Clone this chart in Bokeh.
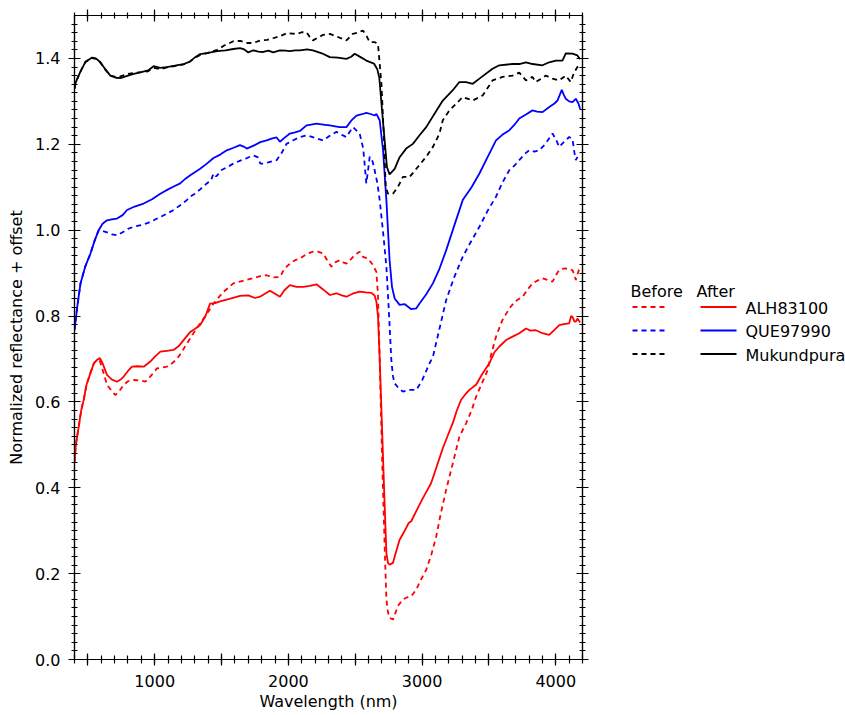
from bokeh.plotting import figure
from bokeh.models import Range1d, LinearAxis, SingleIntervalTicker, NumeralTickFormatter, CustomJSTickFormatter
from bokeh.layouts import row
from bokeh.embed import file_html
from bokeh.resources import INLINE
from bokeh.core.properties import value

# ---------------- data ----------------
# Mukundpura (black)
wl_mk_after = [400, 410, 445, 482, 532, 560, 594, 630, 668, 710, 743, 800, 843, 900, 950, 992, 1040, 1091, 1150,
               1216, 1260, 1303, 1340, 1400, 1467, 1530, 1588, 1638, 1670, 1700, 1737, 1775, 1812, 1850, 1886, 1937,
               1980, 2011, 2050, 2086, 2140, 2183, 2250, 2310, 2370, 2434, 2470, 2496, 2540, 2583, 2640, 2665, 2680,
               2708, 2737, 2757, 2795, 2832, 2881, 2931, 2981, 3031, 3093, 3155, 3230, 3279, 3329, 3379, 3429, 3527,
               3578, 3677, 3727, 3777, 3826, 3901, 3951, 4001, 4050, 4075, 4125, 4162, 4182]
r_mk_after = [1.330, 1.345, 1.370, 1.392, 1.402, 1.400, 1.391, 1.375, 1.360, 1.355, 1.354, 1.360, 1.364, 1.368, 1.372,
              1.382, 1.378, 1.380, 1.383, 1.387, 1.392, 1.403, 1.410, 1.413, 1.417, 1.419, 1.422, 1.424, 1.421, 1.414,
              1.419, 1.416, 1.415, 1.418, 1.414, 1.419, 1.418, 1.417, 1.419, 1.419, 1.421, 1.419, 1.412, 1.403, 1.402,
              1.399, 1.404, 1.411, 1.403, 1.395, 1.388, 1.375, 1.355, 1.252, 1.147, 1.130, 1.143, 1.170, 1.190, 1.201,
              1.221, 1.240, 1.271, 1.302, 1.326, 1.345, 1.345, 1.341, 1.353, 1.376, 1.384, 1.387, 1.387, 1.391, 1.387,
              1.384, 1.391, 1.395, 1.395, 1.412, 1.411, 1.407, 1.398]

wl_mk_before = [400, 410, 445, 482, 532, 560, 594, 630, 668, 710, 743, 800, 843, 900, 950, 992, 1040, 1091, 1150,
                1216, 1260, 1303, 1340, 1400, 1467, 1520, 1588, 1640, 1690, 1737, 1790, 1840, 1886, 1940, 1988, 2030,
                2061, 2100, 2136, 2160, 2183, 2230, 2260, 2310, 2370, 2434, 2460, 2481, 2520, 2557, 2585, 2608, 2645,
                2670, 2696, 2713, 2728, 2745, 2782, 2820, 2857, 2907, 2957, 3031, 3081, 3130, 3155, 3205, 3304, 3379,
                3454, 3528, 3603, 3677, 3727, 3777, 3826, 3851, 3926, 3976, 4026, 4075, 4112, 4137, 4162, 4182]
r_mk_before = [1.330, 1.345, 1.370, 1.392, 1.401, 1.399, 1.390, 1.374, 1.360, 1.357, 1.358, 1.364, 1.366, 1.368,
               1.370, 1.378, 1.375, 1.379, 1.382, 1.386, 1.392, 1.402, 1.408, 1.413, 1.420, 1.430, 1.440, 1.441, 1.436,
               1.436, 1.442, 1.443, 1.447, 1.452, 1.459, 1.458, 1.457, 1.461, 1.461, 1.450, 1.442, 1.450, 1.455, 1.457,
               1.450, 1.442, 1.450, 1.457, 1.460, 1.465, 1.452, 1.438, 1.438, 1.434, 1.341, 1.225, 1.101, 1.085, 1.085,
               1.101, 1.124, 1.124, 1.143, 1.171, 1.194, 1.225, 1.256, 1.279, 1.310, 1.302, 1.314, 1.349, 1.357, 1.360,
               1.367, 1.349, 1.357, 1.345, 1.360, 1.353, 1.349, 1.360, 1.345, 1.367, 1.380, 1.383]

# QUE97990 (blue)
wl_que_after = [400, 420, 445, 480, 519, 550, 581, 610, 643, 680, 718, 760, 793, 850, 917, 980, 1042, 1100, 1150,
                1191, 1230, 1266, 1300, 1340, 1390, 1440, 1490, 1539, 1590, 1638, 1670, 1688, 1740, 1790, 1837, 1880,
                1912, 1937, 1970, 2011, 2050, 2086, 2136, 2170, 2210, 2260, 2310, 2350, 2384, 2434, 2470, 2509, 2550,
                2583, 2620, 2645, 2658, 2683, 2708, 2733, 2757, 2775, 2795, 2832, 2869, 2919, 2957, 2981, 3030, 3081,
                3130, 3180, 3240, 3304, 3370, 3429, 3490, 3553, 3600, 3653, 3690, 3727, 3780, 3826, 3860, 3901, 3951,
                3990, 4013, 4030, 4045, 4060, 4075, 4100, 4125, 4150, 4170, 4182]
r_que_after = [0.767, 0.820, 0.876, 0.915, 0.945, 0.975, 1.000, 1.015, 1.023, 1.025, 1.027, 1.035, 1.047, 1.055,
               1.062, 1.072, 1.085, 1.095, 1.103, 1.109, 1.120, 1.128, 1.135, 1.143, 1.155, 1.168, 1.176, 1.186, 1.192,
               1.198, 1.194, 1.190, 1.197, 1.205, 1.209, 1.214, 1.216, 1.206, 1.215, 1.225, 1.228, 1.231, 1.244, 1.246,
               1.248, 1.246, 1.244, 1.242, 1.240, 1.240, 1.255, 1.267, 1.270, 1.273, 1.270, 1.267, 1.271, 1.256, 1.186,
               1.070, 0.930, 0.868, 0.841, 0.826, 0.828, 0.816, 0.818, 0.829, 0.850, 0.876, 0.910, 0.953, 1.010, 1.070,
               1.100, 1.132, 1.170, 1.209, 1.222, 1.233, 1.245, 1.260, 1.270, 1.279, 1.276, 1.275, 1.287, 1.295, 1.302,
               1.315, 1.327, 1.315, 1.306, 1.300, 1.298, 1.306, 1.295, 1.283]

wl_que_before = [400, 420, 445, 480, 519, 550, 581, 610, 643, 680, 718, 760, 800, 843, 900, 950, 992, 1050, 1100,
                 1141, 1200, 1240, 1266, 1300, 1340, 1390, 1420, 1440, 1460, 1500, 1550, 1588, 1640, 1690, 1737, 1770,
                 1790, 1812, 1850, 1912, 1950, 1986, 2040, 2086, 2136, 2200, 2260, 2310, 2359, 2400, 2434, 2460, 2484,
                 2510, 2533, 2560, 2583, 2600, 2608, 2630, 2645, 2665, 2683, 2710, 2733, 2750, 2770, 2782, 2795, 2830,
                 2857, 2900, 2957, 3000, 3056, 3081, 3130, 3180, 3240, 3304, 3360, 3429, 3490, 3553, 3600, 3653, 3690,
                 3727, 3770, 3801, 3840, 3876, 3920, 3976, 4000, 4026, 4060, 4100, 4125, 4140, 4150, 4165, 4182]
r_que_before = [0.767, 0.820, 0.876, 0.915, 0.945, 0.975, 1.000, 0.998, 0.995, 0.990, 0.988, 0.995, 1.003, 1.008,
                1.012, 1.017, 1.023, 1.032, 1.040, 1.047, 1.060, 1.070, 1.078, 1.085, 1.095, 1.109, 1.115, 1.132,
                1.125, 1.140, 1.148, 1.155, 1.162, 1.168, 1.174, 1.170, 1.155, 1.155, 1.158, 1.163, 1.180, 1.201,
                1.210, 1.217, 1.221, 1.215, 1.209, 1.220, 1.229, 1.222, 1.217, 1.230, 1.240, 1.232, 1.225, 1.190,
                1.109, 1.150, 1.171, 1.160, 1.140, 1.110, 1.070, 0.990, 0.915, 0.820, 0.698, 0.660, 0.643, 0.630,
                0.624, 0.628, 0.628, 0.650, 0.690, 0.705, 0.770, 0.837, 0.890, 0.938, 0.970, 1.008, 1.045, 1.078,
                1.110, 1.140, 1.150, 1.163, 1.178, 1.186, 1.183, 1.186, 1.200, 1.225, 1.212, 1.194, 1.205, 1.217,
                1.212, 1.180, 1.163, 1.172, 1.178]

# ALH83100 (red)
wl_alh_after = [400, 410, 432, 450, 469, 490, 519, 545, 569, 590, 610, 643, 680, 718, 745, 768, 800, 830, 870, 917,
                967, 1000, 1042, 1090, 1141, 1180, 1216, 1266, 1300, 1340, 1380, 1414, 1450, 1489, 1560, 1638, 1700,
                1750, 1788, 1830, 1862, 1900, 1937, 1970, 2011, 2060, 2111, 2160, 2210, 2260, 2310, 2359, 2400, 2434,
                2480, 2533, 2580, 2621, 2645, 2658, 2670, 2683, 2708, 2720, 2733, 2745, 2757, 2782, 2800, 2832, 2870,
                2900, 2919, 2960, 3006, 3040, 3068, 3110, 3155, 3190, 3230, 3260, 3292, 3330, 3354, 3404, 3450, 3503,
                3540, 3578, 3628, 3677, 3727, 3777, 3810, 3851, 3900, 3951, 3990, 4026, 4060, 4100, 4115, 4125, 4140,
                4150, 4162, 4182]
r_alh_after = [0.460, 0.500, 0.543, 0.580, 0.605, 0.640, 0.667, 0.690, 0.698, 0.702, 0.690, 0.663, 0.652, 0.647,
               0.652, 0.659, 0.672, 0.682, 0.683, 0.682, 0.694, 0.705, 0.717, 0.719, 0.721, 0.730, 0.744, 0.763, 0.770,
               0.779, 0.800, 0.829, 0.830, 0.834, 0.840, 0.847, 0.848, 0.842, 0.845, 0.853, 0.859, 0.852, 0.845, 0.860,
               0.872, 0.868, 0.868, 0.870, 0.874, 0.862, 0.849, 0.853, 0.848, 0.845, 0.852, 0.857, 0.855, 0.854, 0.848,
               0.834, 0.800, 0.700, 0.470, 0.360, 0.248, 0.225, 0.221, 0.225, 0.245, 0.279, 0.300, 0.318, 0.322, 0.348,
               0.376, 0.395, 0.411, 0.450, 0.492, 0.520, 0.551, 0.580, 0.605, 0.620, 0.628, 0.640, 0.665, 0.690, 0.715,
               0.729, 0.744, 0.752, 0.760, 0.771, 0.766, 0.767, 0.760, 0.756, 0.768, 0.779, 0.781, 0.783, 0.800, 0.798,
               0.787, 0.787, 0.794, 0.785]

wl_alh_before = [400, 410, 432, 450, 469, 490, 519, 545, 569, 590, 610, 643, 680, 706, 735, 768, 800, 843, 890, 930,
                 970, 1017, 1050, 1091, 1130, 1166, 1200, 1241, 1290, 1340, 1390, 1440, 1510, 1588, 1660, 1737, 1790,
                 1837, 1880, 1937, 1970, 2011, 2050, 2086, 2140, 2185, 2220, 2260, 2290, 2322, 2350, 2384, 2410, 2434,
                 2460, 2484, 2510, 2533, 2558, 2595, 2630, 2658, 2670, 2683, 2700, 2720, 2733, 2745, 2757, 2782, 2820,
                 2857, 2890, 2919, 2957, 2990, 3031, 3070, 3106, 3140, 3180, 3230, 3279, 3329, 3370, 3404, 3450, 3491,
                 3508, 3553, 3600, 3653, 3700, 3752, 3790, 3826, 3860, 3901, 3940, 3976, 4000, 4026, 4050, 4075, 4100,
                 4125, 4140, 4150, 4165, 4182]
r_alh_before = [0.460, 0.500, 0.543, 0.580, 0.605, 0.640, 0.667, 0.690, 0.698, 0.695, 0.675, 0.640, 0.625, 0.616,
                0.625, 0.640, 0.648, 0.651, 0.650, 0.647, 0.660, 0.678, 0.680, 0.682, 0.690, 0.700, 0.715, 0.736, 0.760,
                0.783, 0.805, 0.829, 0.855, 0.876, 0.882, 0.888, 0.893, 0.895, 0.890, 0.891, 0.910, 0.922, 0.930, 0.934,
                0.945, 0.950, 0.950, 0.946, 0.930, 0.915, 0.925, 0.930, 0.925, 0.922, 0.930, 0.938, 0.945, 0.950, 0.938,
                0.934, 0.920, 0.903, 0.850, 0.700, 0.480, 0.264, 0.140, 0.110, 0.097, 0.093, 0.125, 0.140, 0.145, 0.147,
                0.163, 0.185, 0.209, 0.245, 0.287, 0.340, 0.395, 0.457, 0.519, 0.550, 0.580, 0.612, 0.645, 0.674, 0.700,
                0.752, 0.790, 0.818, 0.835, 0.845, 0.862, 0.876, 0.882, 0.888, 0.884, 0.880, 0.895, 0.907, 0.910, 0.911,
                0.908, 0.907, 0.895, 0.884, 0.900, 0.915]

sample_names = ["ALH83100", "QUE97990", "Mukundpura"]
sample_colors = ["#ff0000", "#0000ff", "#000000"]
legend_headers = ["Before", "After"]

x_tick_interval = 500        # ticks every 500 nm, labels every 1000 nm
x_label_every = 1000
y_ticks_interval = 0.2

FONT = "DejaVu Sans"
FS = "16px"

# ---------------- main plot ----------------
p = figure(width=590, height=713, x_range=Range1d(400, 4200), y_range=Range1d(0, 1.5),
           output_backend="svg", toolbar_location=None,
           min_border_left=74, min_border_right=8, min_border_top=15, min_border_bottom=53)
p.frame_align = False
p.grid.visible = False
p.outline_line_color = "black"
p.outline_line_width = 1.2
p.background_fill_color = "white"
p.border_fill_color = "white"

series = [
    (wl_alh_before, r_alh_before, sample_colors[0], "dashed"),
    (wl_alh_after, r_alh_after, sample_colors[0], "solid"),
    (wl_que_before, r_que_before, sample_colors[1], "dashed"),
    (wl_que_after, r_que_after, sample_colors[1], "solid"),
    (wl_mk_before, r_mk_before, sample_colors[2], "dashed"),
    (wl_mk_after, r_mk_after, sample_colors[2], "solid"),
]
for xs, ys, c, d in series:
    if d == "dashed":
        p.line(xs, ys, line_color=c, line_width=1.8, line_dash="5 4")
    else:
        p.line(xs, ys, line_color=c, line_width=1.8)


def style_axis(ax, tin, tout, min_in, min_out):
    ax.axis_line_color = "black"
    ax.axis_line_width = 1.2
    ax.major_tick_line_color = "black"
    ax.minor_tick_line_color = "black"
    ax.major_tick_line_width = 1.2
    ax.minor_tick_line_width = 1.2
    ax.major_tick_in = tin
    ax.major_tick_out = tout
    ax.minor_tick_in = min_in
    ax.minor_tick_out = min_out
    ax.major_label_text_font = FONT
    ax.major_label_text_font_size = FS
    ax.major_label_text_color = "black"
    ax.axis_label_text_font = FONT
    ax.axis_label_text_font_size = FS
    ax.axis_label_text_font_style = "normal"
    ax.axis_label_text_color = "black"


x_fmt = CustomJSTickFormatter(args=dict(every=x_label_every),
                              code="return (Math.abs(tick % every) < 1e-6) ? tick.toFixed(0) : '';")

xb = p.xaxis[0]
xb.ticker = SingleIntervalTicker(interval=x_tick_interval, num_minor_ticks=5)
xb.formatter = x_fmt
style_axis(xb, 6, 6, 4, 4)
xb.axis_label = "Wavelength (nm)"
xb.major_label_standoff = 9
xb.axis_label_standoff = 2

yl = p.yaxis[0]
yl.ticker = SingleIntervalTicker(interval=y_ticks_interval, num_minor_ticks=10)
yl.formatter = NumeralTickFormatter(format="0.0")
style_axis(yl, 6, 6, 3, 3)
yl.axis_label = "Normalized reflectance + offset"
yl.major_label_standoff = 8
yl.axis_label_standoff = 6

blank = CustomJSTickFormatter(code="return ''")
xt = LinearAxis(ticker=SingleIntervalTicker(interval=x_tick_interval, num_minor_ticks=5), formatter=blank)
style_axis(xt, 6, 6, 3, 3)
xt.major_label_standoff = 0
xt.major_label_text_font_size = "1px"
p.add_layout(xt, "above")

yr = LinearAxis(ticker=SingleIntervalTicker(interval=y_ticks_interval, num_minor_ticks=10), formatter=blank)
style_axis(yr, 6, 6, 3, 3)
yr.major_label_standoff = 0
yr.major_label_text_font_size = "1px"
p.add_layout(yr, "right")

# ---------------- legend panel ----------------
# pixel coordinate system of the legend panel (layout only, not data)
lg = figure(width=255, height=713, x_range=Range1d(590, 845), y_range=Range1d(713, 0),
            output_backend="svg", toolbar_location=None,
            min_border_left=0, min_border_right=0, min_border_top=0, min_border_bottom=0)
lg.frame_align = False
lg.xaxis.visible = False
lg.yaxis.visible = False
lg.grid.visible = False
lg.outline_line_color = None

head_x = [630, 696]
head_y = [291, 291]
lg.text(head_x, head_y, text=legend_headers, text_font=value(FONT), text_font_size=FS,
        text_color="black", text_baseline="alphabetic", text_align="left")

row_y = [306.5, 330, 353.5]
lg.segment(x0=[632] * 3, y0=row_y, x1=[667] * 3, y1=row_y, line_color=sample_colors,
           line_width=1.8, line_dash="5 4")
lg.segment(x0=[700] * 3, y0=row_y, x1=[736] * 3, y1=row_y, line_color=sample_colors,
           line_width=1.8)
lg.text([745] * 3, [y + 1 for y in row_y], text=sample_names, text_font=value(FONT), text_font_size=FS,
        text_color="black", text_baseline="middle", text_align="left")

layout = row(p, lg)
open("out.html", "w").write(file_html(layout, INLINE))
